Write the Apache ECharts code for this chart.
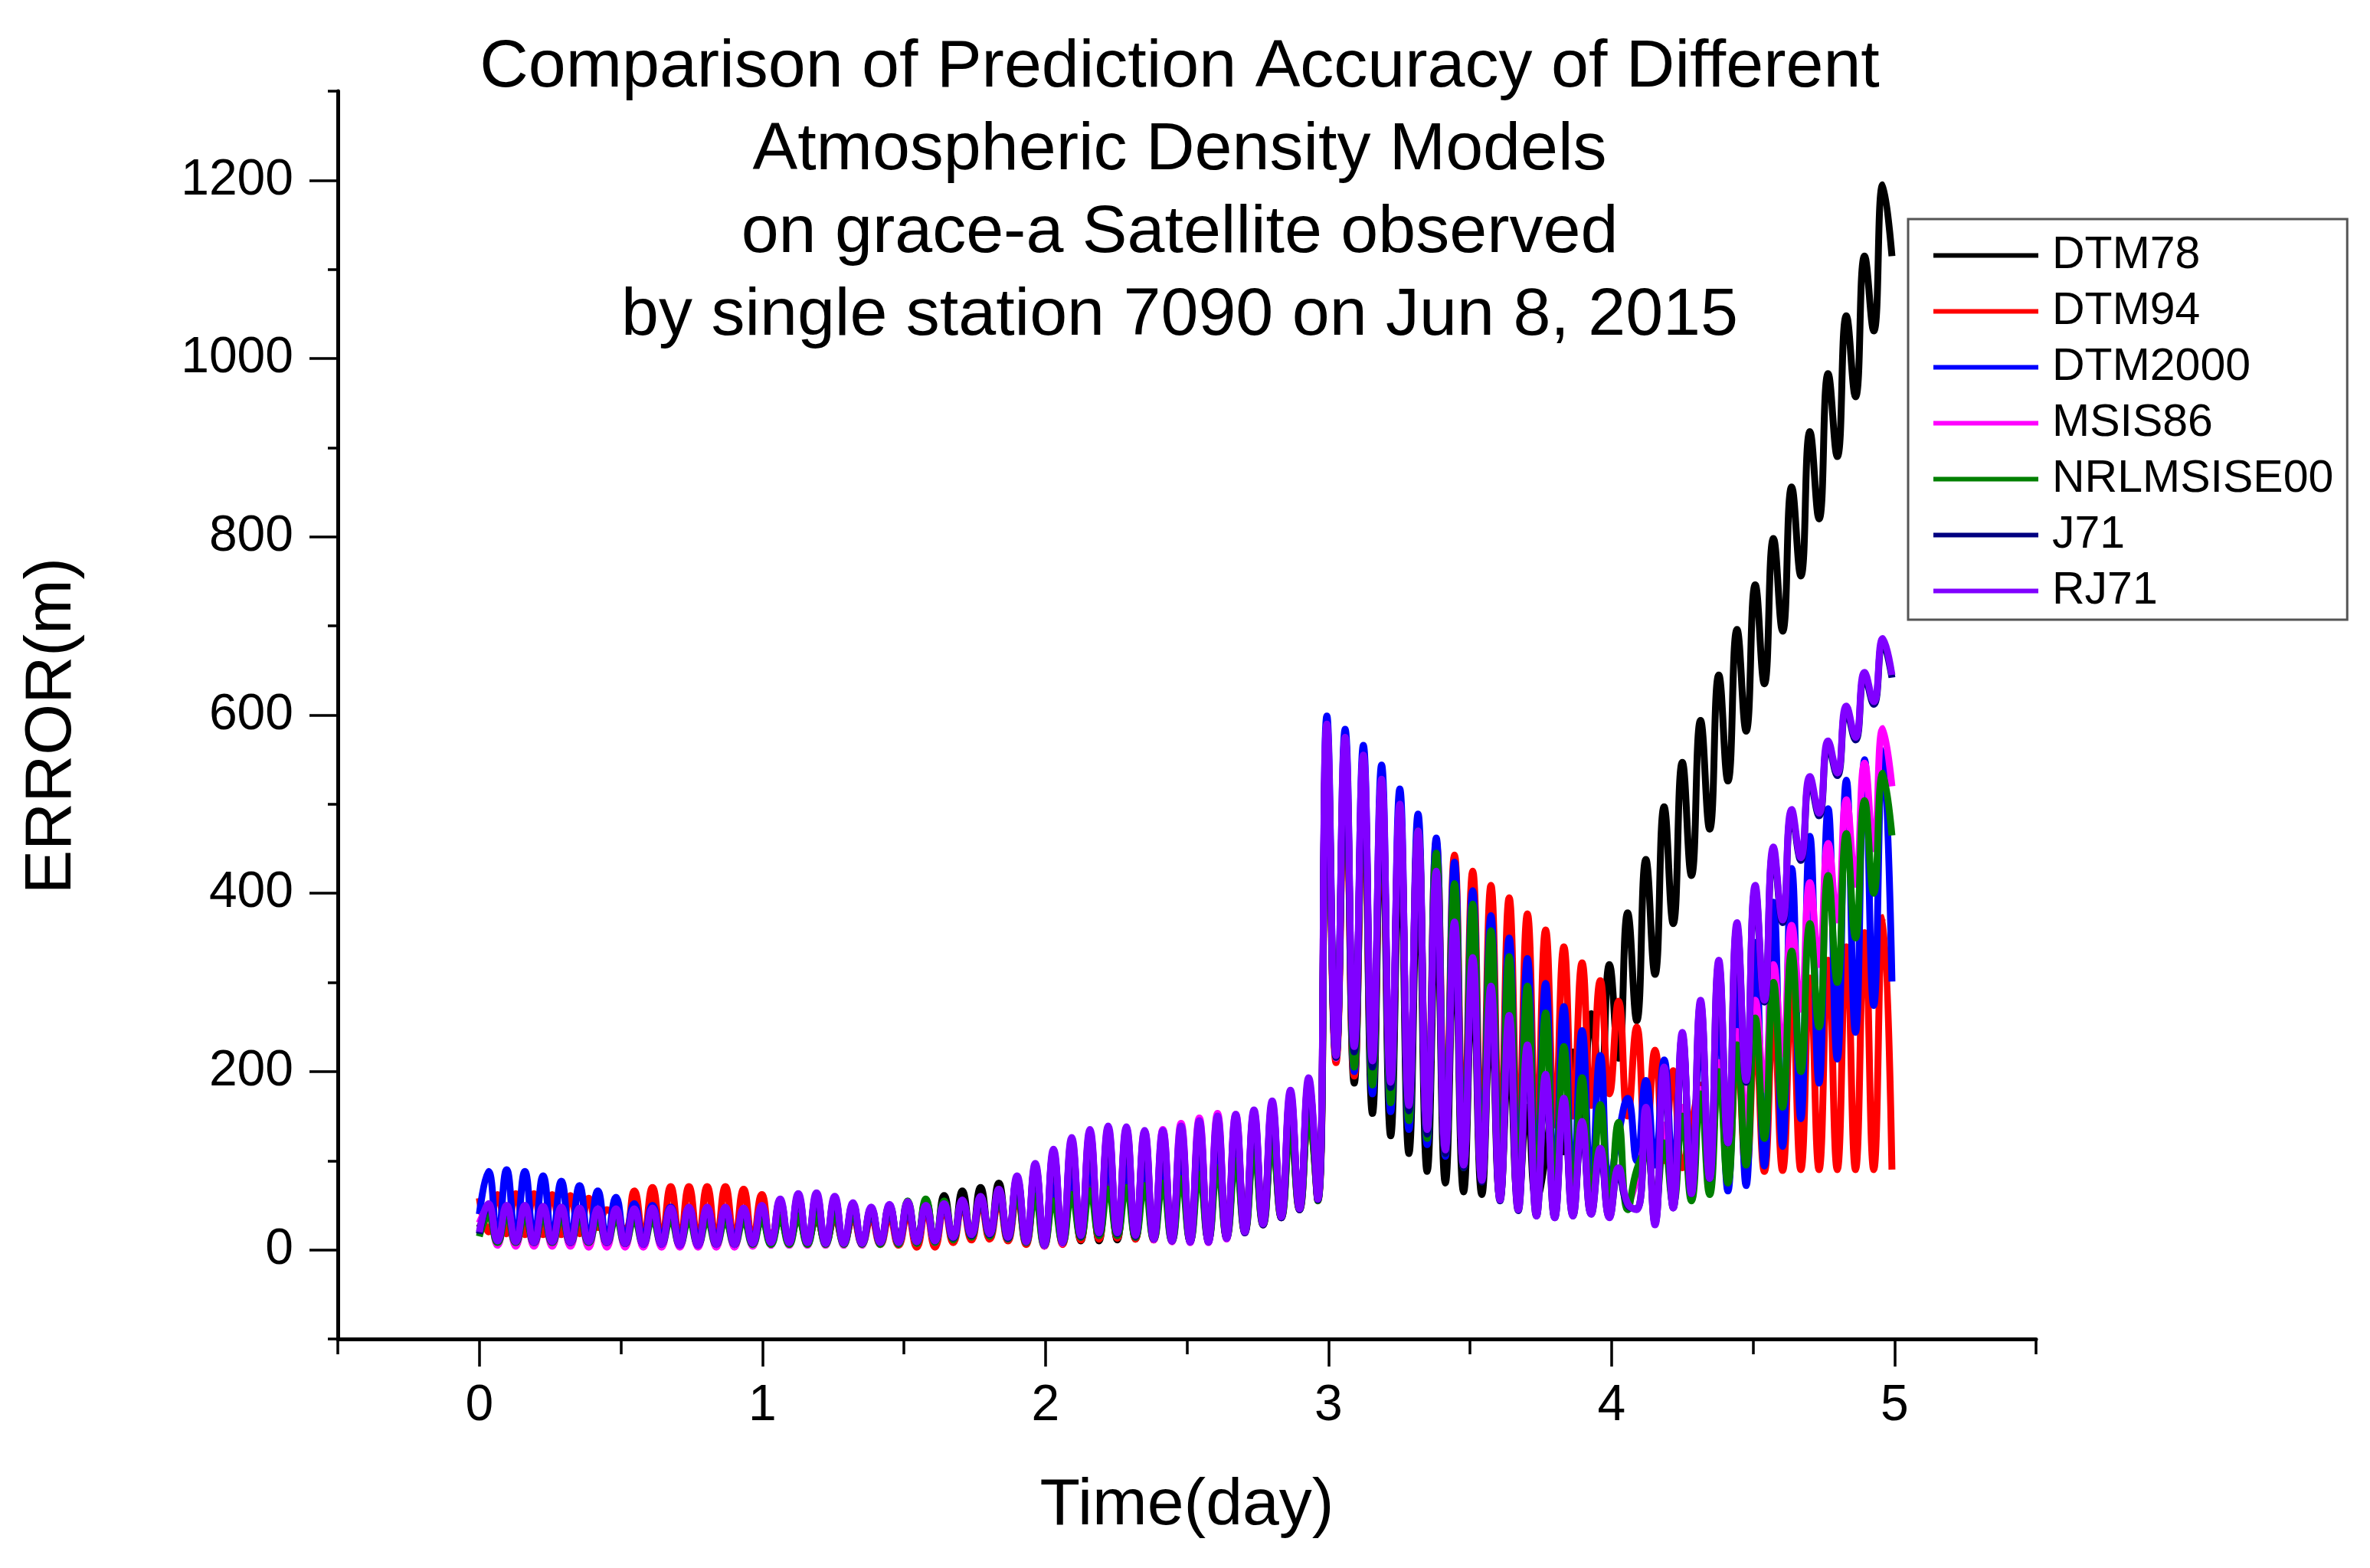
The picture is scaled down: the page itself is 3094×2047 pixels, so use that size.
<!DOCTYPE html>
<html>
<head>
<meta charset="utf-8">
<script src="https://cdn.jsdelivr.net/npm/echarts@6/dist/echarts.min.js"></script>
<style>
html,body{margin:0;padding:0;background:#ffffff;}
#chart{width:3094px;height:2047px;}
</style>
</head>
<body>
<div id="chart"></div>
<script>
// ---------- data ----------
const titleLines = [
  'Comparison of Prediction Accuracy of Different',
  'Atmospheric Density Models',
  'on grace-a Satellite observed',
  'by single station 7090 on Jun 8, 2015'
];
const seriesNames = ['DTM78', 'DTM94', 'DTM2000', 'MSIS86', 'NRLMSISE00', 'J71', 'RJ71'];
const seriesColors = ['#000000', '#ff0000', '#0000ff', '#ff00ff', '#008000', '#000080', '#8000ff'];
const xTickLabels = ['0', '1', '2', '3', '4', '5'];
const yTickLabels = ['0', '200', '400', '600', '800', '1000', '1200'];
const xMajorTicks = [0, 1, 2, 3, 4, 5];
const yMajorTicks = [0, 200, 400, 600, 800, 1000, 1200];

// sampling step of the read-off values (half of one orbital revolution, in days)
const sampleStep = 0.0322;

const dtm78 = [25,38,16,38,15,37,15,37,16,36,
 16,36,15,35,15,35,14,35,14,34,
 13,34,13,34,12,33,12,33,11,33,
 11,33,10,34,10,35,10,35,9,36,
 9,37,9,40,8,45,8,50,8,55,
 8,61,10,66,13,70,15,75,12,78,
 8,80,5,85,8,95,10,105,10,110,
 11,112,12,110,12,112,12,118,14,125,
 16,130,20,135,26,140,33,150,42,160,
 50,175,58,560,215,545,187,520,153,490,
 128,455,108,420,88,380,75,340,65,300,
 62,260,58,215,56,160,57,105,184,110,
 222,140,265,180,320,215,378,257,438,309,
 497,366,547,420,594,472,645,526,696,582,
 746,635,798,694,856,756,918,820,983,890,
 1048,957,1115,1031,1195,1115];

const dtm94 = [58,20,62,18,63,17,63,17,62,17,
 61,18,58,25,45,35,22,66,14,70,
 13,71,12,71,12,71,12,71,12,68,
 11,62,10,45,9,40,9,38,8,37,
 8,36,7,36,6,37,5,40,3,44,
 3,47,8,50,11,52,12,55,10,60,
 6,68,4,72,6,80,11,88,12,92,
 13,95,12,95,11,97,10,100,10,105,
 11,110,14,115,20,120,28,128,36,138,
 45,150,55,548,210,530,195,515,180,500,
 165,486,150,472,140,458,130,443,125,425,
 120,409,120,395,125,377,130,359,140,340,
 150,322,162,302,175,279,150,250,120,224,
 100,201,92,140,185,88,200,88,218,88,
 238,88,260,89,290,90,305,90,325,90,
 340,90,356,90,373,90];

const dtm2000 = [40,88,12,90,12,88,12,83,12,77,
 12,72,12,66,12,59,12,52,12,50,
 12,48,12,47,12,46,12,45,12,44,
 11,43,11,42,10,42,10,41,10,40,
 10,40,10,40,10,42,9,45,9,48,
 9,50,12,52,15,55,16,60,13,68,
 8,74,6,80,9,90,14,98,16,100,
 16,98,14,96,12,97,10,100,10,105,
 11,110,15,115,22,120,30,130,38,140,
 47,155,56,599,218,584,200,566,175,544,
 155,517,135,489,118,462,105,435,95,403,
 88,375,80,350,75,327,70,299,68,273,
 68,246,70,218,75,130,170,100,190,95,
 213,85,230,78,250,74,275,66,305,72,
 345,94,390,116,428,147,464,187,495,214,
 527,244,550,274,560,301];

const msis86 = [30,48,5,47,4,47,4,46,4,45,
 4,45,3,44,3,44,3,44,3,45,
 3,45,3,46,3,46,3,46,3,45,
 4,48,5,54,5,60,5,61,5,57,
 5,51,5,46,6,49,6,52,7,49,
 8,51,12,54,15,58,16,65,12,80,
 8,94,4,110,7,123,15,132,18,136,
 18,136,15,133,11,135,9,142,8,148,
 8,153,12,152,19,155,28,163,36,175,
 45,188,56,580,215,565,220,545,200,520,
 178,492,155,462,130,418,110,360,93,320,
 78,288,62,255,52,222,46,190,44,163,
 45,138,48,110,50,90,55,80,120,50,
 140,55,160,65,180,90,210,110,245,140,
 280,180,320,220,364,270,412,320,456,370,
 505,410,546,450,585,520];

const nrlmsise00 = [15,38,8,38,8,37,8,37,8,36,
 8,36,8,35,8,35,7,34,7,34,
 7,34,6,33,6,33,6,33,6,33,
 6,34,6,36,6,38,6,40,6,42,
 6,44,6,46,6,50,6,55,7,57,
 8,55,11,55,14,58,15,62,12,66,
 8,60,5,55,8,62,14,66,16,68,
 16,70,14,72,12,75,10,80,10,85,
 11,92,14,100,20,110,28,120,36,135,
 45,150,55,575,216,560,205,540,185,515,
 165,490,145,470,125,445,108,411,92,388,
 80,358,70,329,62,296,56,266,52,228,
 50,193,48,163,46,143,45,90,110,50,
 120,52,150,55,175,62,200,75,230,95,
 260,125,300,160,335,200,366,250,420,300,
 467,350,504,400,535,465];

const j71 = [18,50,10,49,9,48,8,47,9,46,
 8,45,9,45,8,45,7,45,6,45,
 6,46,5,46,5,46,6,46,6,45,
 7,48,8,55,8,60,8,61,7,57,
 7,51,7,46,8,49,8,52,9,49,
 10,51,13,54,16,58,17,65,13,80,
 9,93,5,108,8,120,15,129,18,133,
 18,132,15,128,12,128,10,133,9,139,
 9,144,13,146,19,151,28,160,36,172,
 45,186,56,570,216,555,222,535,205,508,
 182,480,156,450,130,408,108,355,92,316,
 76,285,55,252,44,220,38,188,36,162,
 38,137,40,108,37,88,50,46,150,30,
 200,47,240,63,276,80,320,120,362,188,
 404,278,447,367,489,437,526,487,566,532,
 605,572,643,612,681,642];

const rj71 = [20,52,10,50,9,50,8,49,9,48,
 8,47,9,46,8,46,7,46,6,47,
 6,47,5,48,5,48,6,48,6,47,
 7,50,8,57,8,63,8,64,7,60,
 7,53,7,48,8,51,8,54,9,50,
 10,52,14,56,17,60,18,68,14,83,
 9,97,5,113,8,126,16,135,19,139,
 19,138,16,134,12,134,10,139,9,145,
 9,150,13,152,20,157,29,167,37,179,
 46,193,57,590,218,575,228,555,212,528,
 188,500,162,470,135,425,112,368,95,328,
 78,296,56,263,45,230,38,197,36,170,
 38,144,40,114,36,92,52,45,160,28,
 205,47,244,63,280,80,325,120,367,190,
 409,280,452,370,494,440,531,490,571,535,
 610,575,648,615,686,645];

// ---------- chart ----------
const FONT = '"Liberation Sans", Arial, Helvetica, sans-serif';
const seriesValues = [dtm78, dtm94, dtm2000, msis86, nrlmsise00, j71, rj71];
const times = dtm78.map(function (_, j) { return +(j * sampleStep).toFixed(4); });

const chart = echarts.init(document.getElementById('chart'), null, { renderer: 'canvas', width: 3094, height: 2047 });

const gridBox = { left: 441, right: 436, top: 119, bottom: 299 };

const option = {
  animation: false,
  backgroundColor: '#ffffff',
  title: {
    text: titleLines.join('\n'),
    left: 1540,
    top: 35,
    textAlign: 'center',
    padding: 0,
    textStyle: { fontSize: 88, lineHeight: 108, fontWeight: 'normal', color: '#000', fontFamily: FONT }
  },
  legend: {
    data: seriesNames,
    orient: 'vertical',
    left: 2491,
    top: 286,
    padding: [18, 18, 8, 33],
    itemGap: 14,
    itemWidth: 137,
    itemHeight: 6,
    icon: 'rect',
    selectedMode: false,
    borderColor: '#555555',
    borderWidth: 3,
    backgroundColor: '#ffffff',
    textStyle: { fontSize: 59, lineHeight: 59, color: '#000', fontFamily: FONT, padding: [0, 0, 0, 13] }
  },
  grid: [Object.assign({}, gridBox), Object.assign({}, gridBox)],
  xAxis: [
    {
      gridIndex: 0, type: 'value', min: -0.5, max: 5.5, interval: 0.5,
      axisLine: { show: true, onZero: false, lineStyle: { color: '#000', width: 5 } },
      axisTick: { show: true, length: 20, lineStyle: { color: '#000', width: 3.5 } },
      axisLabel: {
        show: true, margin: 55, fontSize: 66, color: '#000', fontFamily: FONT,
        formatter: function (v) { var s = String(v); return xTickLabels.indexOf(s) >= 0 ? s : ''; }
      },
      splitLine: { show: false },
      name: 'Time(day)', nameLocation: 'middle', nameGap: 175,
      nameTextStyle: { fontSize: 86, color: '#000', fontFamily: FONT }
    },
    {
      gridIndex: 1, type: 'value', min: -0.5, max: 5.5, position: 'bottom',
      axisLine: { show: false, onZero: false },
      axisTick: { show: true, length: 36, customValues: xMajorTicks, lineStyle: { color: '#000', width: 3.5 } },
      axisLabel: { show: false },
      splitLine: { show: false }
    }
  ],
  yAxis: [
    {
      gridIndex: 0, type: 'value', min: -100, max: 1300, interval: 100,
      axisLine: { show: true, onZero: false, lineStyle: { color: '#000', width: 5 } },
      axisTick: { show: true, length: 13, lineStyle: { color: '#000', width: 3.5 } },
      axisLabel: {
        show: true, margin: 58, fontSize: 66, color: '#000', fontFamily: FONT,
        formatter: function (v) { var s = String(v); return yTickLabels.indexOf(s) >= 0 ? s : ''; }
      },
      splitLine: { show: false },
      name: 'ERROR(m)', nameLocation: 'middle', nameGap: 330,
      nameTextStyle: { fontSize: 86, color: '#000', fontFamily: FONT, padding: [0, 28, 0, 0] }
    },
    {
      gridIndex: 1, type: 'value', min: -100, max: 1300, position: 'left',
      axisLine: { show: false, onZero: false },
      axisTick: { show: true, length: 37, customValues: yMajorTicks, lineStyle: { color: '#000', width: 3.5 } },
      axisLabel: { show: false },
      splitLine: { show: false }
    }
  ],
  series: seriesNames.map(function (name, i) {
    return {
      name: name,
      type: 'line',
      xAxisIndex: 0,
      yAxisIndex: 0,
      data: times.map(function (t, j) { return [t, seriesValues[i][j]]; }),
      smooth: 0.5,
      symbol: 'none',
      showSymbol: false,
      lineStyle: { width: 9, color: seriesColors[i] },
      itemStyle: { color: seriesColors[i] },
      emphasis: { disabled: true },
      silent: true
    };
  })
};

chart.setOption(option);
</script>
</body>
</html>
